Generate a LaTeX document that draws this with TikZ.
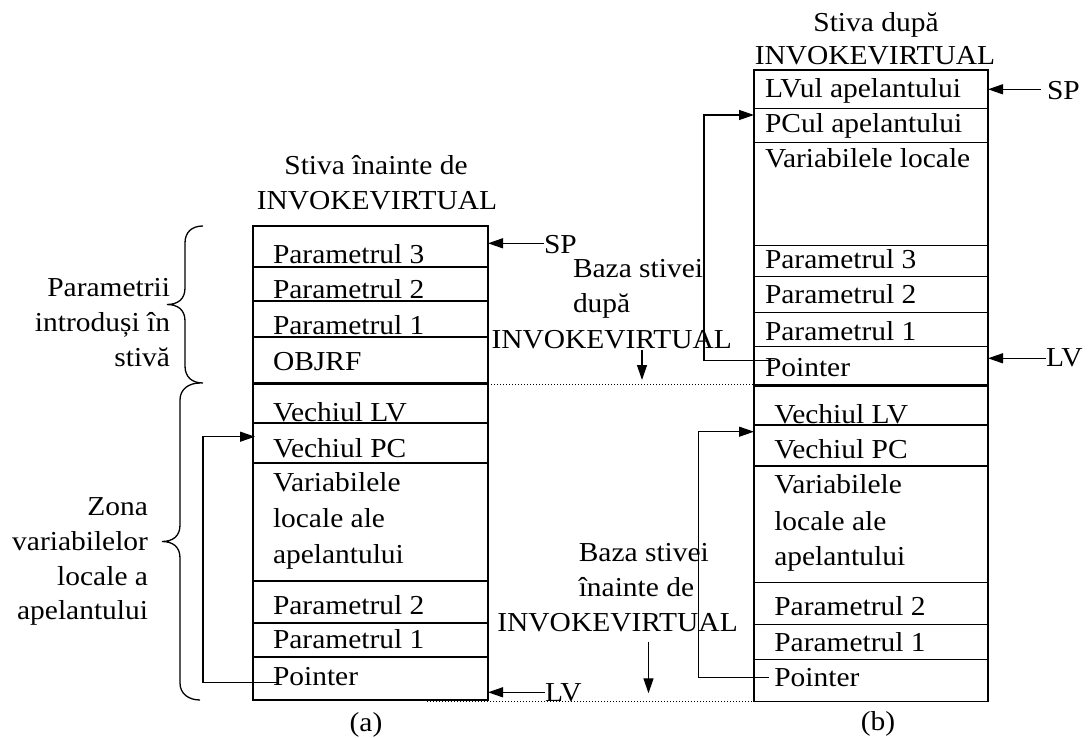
\documentclass[tikz,border=0pt]{standalone}
\usepackage{fontspec}
\setmainfont{Liberation Serif}[FakeStretch=1.075]
\usetikzlibrary{arrows.meta}
\begin{document}
\begin{tikzpicture}[x=0.5pt,y=-0.5pt,
  line width=0.65pt,
  every node/.style={inner sep=0pt,outer sep=0pt,font=\fontsize{13.7}{17.5}\selectfont},
  lbl/.style={anchor=base west},
  rlbl/.style={anchor=base east},
  clbl/.style={anchor=base},
  arr/.style={-{Triangle[length=7.5pt,width=5pt]}},
  dotline/.style={line width=0.45pt,dash pattern=on 0.5pt off 1pt},
  boxline/.style={line width=0.7pt}]
\useasboundingbox (0,0) rectangle (1088,738);

% ---------- stack (a) ----------
\draw[boxline] (253,226) rectangle (488,383);
\draw[boxline] (253,384) rectangle (488,700);
\foreach \y in {267,301,337,423,463,581,623,657}
  \draw[boxline] (253,\y) -- (488,\y);

\node[clbl] (ta1) at (376,175) {Stiva înainte de};
\node[clbl] (ta2) at (377,210) {INVOKEVIRTUAL};

\node[lbl] (a1) at (273,263.5) {Parametrul 3};
\node[lbl] (a2) at (273,299) {Parametrul 2};
\node[lbl] (a3) at (273,334.5) {Parametrul 1};
\node[lbl] (a4) at (273,370) {OBJRF};
\node[lbl] (a5) at (273,421) {Vechiul LV};
\node[lbl] (a6) at (273,457.7) {Vechiul PC};
\node[lbl] (a7) at (273,491.7) {Variabilele};
\node[lbl] (a8) at (273,527.7) {locale ale};
\node[lbl] (a9) at (273,563.3) {apelantului};
\node[lbl] (a10) at (273,614.3) {Parametrul 2};
\node[lbl] (a11) at (273,648.7) {Parametrul 1};
\node[lbl] (a12) at (273,685) {Pointer};

% left labels and braces
\node[rlbl] (l1) at (170,296.7) {Parametrii};
\node[rlbl] (l2) at (170,331.7) {introduși în};
\node[rlbl] (l3) at (170,366.7) {stivă};
\node[rlbl] (l4) at (148,515) {Zona};
\node[rlbl] (l5) at (148,550) {variabilelor};
\node[rlbl] (l6) at (148,585) {locale a};
\node[rlbl] (l7) at (148,619) {apelantului};

\draw (203,226) .. controls (192,226) and (185,232) .. (185,243) -- (185,288)
  .. controls (185,299) and (178,304.5) .. (167,304.5)
  .. controls (178,304.5) and (185,310) .. (185,321) -- (185,366)
  .. controls (185,377) and (192,383) .. (203,383);
\draw (200,383) .. controls (189,383) and (180,389) .. (180,400) -- (180,525)
  .. controls (180,536) and (173,541.5) .. (162,541.5)
  .. controls (173,541.5) and (180,547) .. (180,558) -- (180,683)
  .. controls (180,694) and (189,700) .. (200,700);

% loop (a)
\coordinate (pa) at (277,682.7);
\coordinate (pca) at (255,436.7);
\draw[arr] (pa) -- (203,682.7) -- (203,436.7) -- (pca);

% SP / LV (a)
\node[lbl] (spa) at (544,253.3) {SP};
\node[lbl] (lva) at (545,701.7) {LV};
\coordinate (spat) at (488,243.3);
\coordinate (lvat) at (488,692.3);
\draw[arr] (spa.west |- spat) -- (spat);
\draw[arr] (lva.west |- lvat) -- (lvat);

\node (capa) [clbl] at (366,731) {(a)};

% ---------- middle labels ----------
\node[lbl] (m1) at (573,278) {Baza stivei};
\node[lbl] (m2) at (573,313) {după};
\node[lbl] (m3) at (491.6,348) {INVOKEVIRTUAL};
\coordinate (m3a) at (642,350);
\coordinate (m3b) at (642,380);
\draw[arr] (m3a) -- (m3b);

\node[lbl] (n1) at (578.8,561.7) {Baza stivei};
\node[lbl] (n2) at (578.8,596.7) {înainte de};
\node[lbl] (n3) at (497.4,631.7) {INVOKEVIRTUAL};
\coordinate (n3a) at (648.5,641.7);
\coordinate (n3b) at (648.5,693.3);
\draw[arr] (n3a) -- (n3b);

\draw[dotline] (488,384) -- (800,384);
\draw[dotline] (427,701.5) -- (803,701.5);

% ---------- stack (b) ----------
\draw[boxline] (754,70) rectangle (988,385);
\draw[boxline] (754,386) rectangle (988,701.7);
\foreach \y in {108.3,142.7,245.7,276.7,312.3,346.7,425,466,582.7,624.3,659.3}
  \draw[boxline] (754,\y) -- (988,\y);

\node[clbl] (tb1) at (876,31.7) {Stiva după};
\node[clbl] (tb2) at (875,65) {INVOKEVIRTUAL};

\node[lbl] (b1) at (765,97.5) {LVul apelantului};
\node[lbl] (b2) at (765,133) {PCul apelantului};
\node[lbl] (b3) at (765,168) {Variabilele locale};
\node[lbl] (b4) at (765,268.5) {Parametrul 3};
\node[lbl] (b5) at (765,303.5) {Parametrul 2};
\node[lbl] (b6) at (765,340) {Parametrul 1};
\begin{scope}
  \clip (754,346.7) rectangle (988,377);
  \node[lbl] (b7) at (765,376) {Pointer};
\end{scope}
\node[lbl] (b8) at (774.3,423) {Vechiul LV};
\node[lbl] (b9) at (774.3,458) {Vechiul PC};
\node[lbl] (b10) at (774.3,493) {Variabilele};
\node[lbl] (b11) at (774.3,530) {locale ale};
\node[lbl] (b12) at (774.3,565) {apelantului};
\node[lbl] (b13) at (774.3,615) {Parametrul 2};
\node[lbl] (b14) at (774.3,651.7) {Parametrul 1};
\node[lbl] (b15) at (774.3,686.7) {Pointer};

% loops (b)
\coordinate (pb1) at (775,360.7);
\coordinate (pcb1) at (754,115);
\draw[arr] (pb1) -- (704,360.7) -- (704,115) -- (pcb1);
\coordinate (pb2) at (768.5,677.7);
\coordinate (pcb2) at (754,431.7);
\draw[arr] (pb2) -- (698.8,677.7) -- (698.8,431.7) -- (pcb2);

% SP / LV (b)
\node[lbl] (spb) at (1047,100) {SP};
\node[lbl] (lvb) at (1046,366.7) {LV};
\coordinate (spbt) at (988,89.3);
\coordinate (lvbt) at (988,358.3);
\draw[arr] (1041,89.3) -- (spbt);
\draw[arr] (lvb.west |- lvbt) -- (lvbt);

\node (capb) [clbl] at (878,730) {(b)};
\end{tikzpicture}
\end{document}
